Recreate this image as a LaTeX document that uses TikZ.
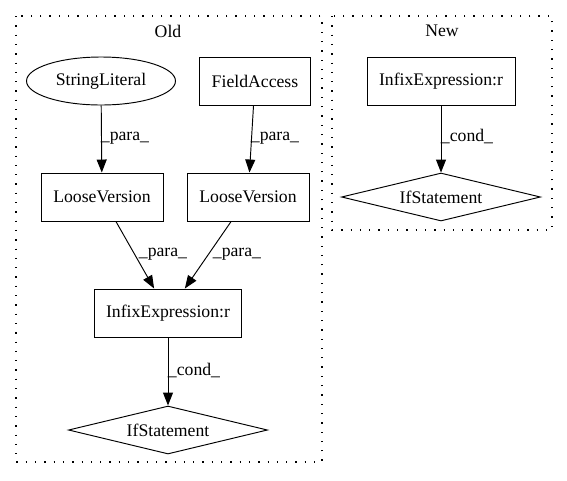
\documentclass[tikz,border=0pt]{standalone}
\usepackage{fontspec}
\setmainfont{Liberation Serif}
\usetikzlibrary{shapes.geometric,arrows.meta}
\begin{document}
\begin{tikzpicture}[x=1pt,y=-1pt,
  every node/.style={font=\fontsize{17.7}{20}\selectfont, inner sep=0pt},
  box/.style={draw, line width=0.95pt, rectangle, minimum width=#1, minimum height=48pt},
  oval/.style={draw, line width=0.95pt, ellipse, minimum width=149pt, minimum height=48pt},
  cond/.style={draw, line width=0.95pt, diamond, aspect=4.15, minimum width=199pt, minimum height=48pt},
  edge/.style={line width=0.95pt, -{Triangle[length=13pt,width=10pt]}},
  cluster/.style={line width=1.1pt, dash pattern=on 1.3pt off 8pt},
  lbl/.style={}]
\useasboundingbox (0,0) rectangle (567,480);
% clusters
\draw[cluster] (16,16) rectangle (322,462);
\draw[cluster] (332,16) rectangle (552,230);
\node (oldlbl) at (168,31) {Old};
\node (newlbl) at (442,31) {New};
% Old nodes
\node[oval] (sl) at (101,81) {StringLiteral};
\node[box=111pt] (fa) at (255,81) {FieldAccess};
\node[box=122pt] (lv1) at (102,197) {LooseVersion};
\node[box=122pt] (lv2) at (248,197) {LooseVersion};
\node[box=147pt] (ie) at (168,313) {InfixExpression:r};
\node[cond] (if) at (168,430) {IfStatement};
% New nodes
\node[box=148pt] (ie2) at (441,81) {InfixExpression:r};
\node[cond] (if2) at (441,197) {IfStatement};
% edges
\draw[edge] (sl) -- (lv1);
\draw[edge] (fa) -- (lv2);
\draw[edge] (lv1) -- (ie);
\draw[edge] (lv2) -- (ie);
\draw[edge] (ie) -- (if);
\draw[edge] (ie2) -- (if2);
% edge labels
\node[lbl] (p1) at (125,138) {\_para\_};
\node[lbl] (p2) at (275,138) {\_para\_};
\node[lbl] (p3) at (163,254) {\_para\_};
\node[lbl] (p4) at (237,254) {\_para\_};
\node[lbl] (c1) at (194,370) {\_cond\_};
\node[lbl] (c2) at (467,136) {\_cond\_};
\end{tikzpicture}
\end{document}
